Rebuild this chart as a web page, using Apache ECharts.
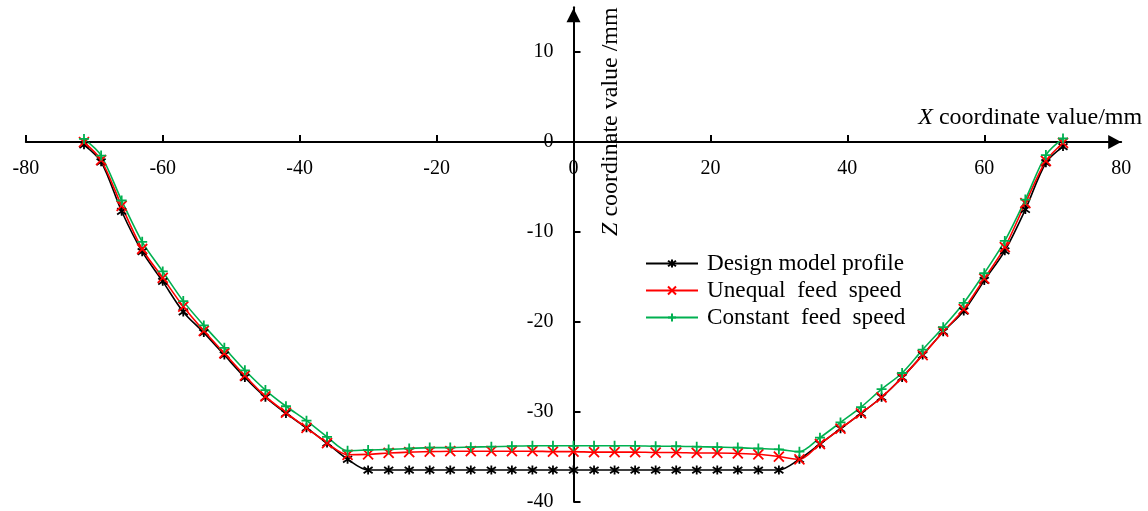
<!DOCTYPE html>
<html>
<head>
<meta charset="utf-8">
<title>Profile comparison</title>
<script src="https://cdn.jsdelivr.net/npm/echarts@6/dist/echarts.min.js"></script>
<style>
    html, body { margin: 0; padding: 0; background: #fff; }
    #main { width: 1148px; height: 511px; }
</style>
</head>
<body>
<div id="main"></div>
<script>
// x positions of the sampled profile points (mm)
var xValues = [-71.5, -69, -66, -63, -60, -57, -54, -51, -48, -45, -42, -39, -36, -33,
    -30, -27, -24, -21, -18, -15, -12, -9, -6, -3, 0, 3, 6, 9, 12, 15, 18, 21, 24, 27, 30,
    33, 36, 39, 42, 45, 48, 51, 54, 57, 60, 63, 66, 69, 71.5];

// z values (mm)
var designZ = [-0.3, -2.2, -7.7, -12.2, -15.5, -18.9, -21.2, -23.7, -26.2, -28.4, -30.2, -31.8, -33.5, -35.3,
    -36.5, -36.5, -36.5, -36.5, -36.5, -36.5, -36.5, -36.5, -36.5, -36.5, -36.5, -36.5, -36.5, -36.5, -36.5, -36.5, -36.5, -36.5, -36.5, -36.5, -36.5,
    -35.3, -33.6, -31.9, -30.2, -28.4, -26.2, -23.7, -21.1, -18.8, -15.4, -12.1, -7.5, -2.3, -0.5];
var unequalZ = [0.0, -2.0, -7.1, -11.9, -15.1, -18.3, -21.0, -23.5, -26.0, -28.3, -30.1, -31.8, -33.5, -34.8,
    -34.75, -34.6, -34.5, -34.45, -34.4, -34.4, -34.4, -34.4, -34.4, -34.45, -34.45, -34.5, -34.5, -34.5, -34.55, -34.55, -34.6, -34.6, -34.65, -34.75, -35.0,
    -35.3, -33.6, -31.9, -30.2, -28.4, -26.2, -23.7, -21.1, -18.6, -15.2, -11.7, -6.8, -2.1, -0.1];
var constantZ = [0.35, -1.5, -6.5, -11.1, -14.4, -17.7, -20.4, -22.9, -25.4, -27.6, -29.4, -31.0, -32.8, -34.35,
    -34.27, -34.2, -34.1, -34.0, -34.0, -33.95, -33.9, -33.85, -33.8, -33.8, -33.8, -33.8, -33.8, -33.8, -33.85, -33.85, -33.9, -33.95, -34.0, -34.1, -34.2,
    -34.45, -32.9, -31.2, -29.5, -27.5, -25.7, -23.1, -20.6, -17.9, -14.6, -11.0, -6.4, -1.45, 0.4];

var seriesNames = ['Design model profile', 'Unequal  feed  speed', 'Constant  feed  speed'];

// ticks / labels
var xTicks = [-80, -60, -40, -20, 0, 20, 40, 60];
var xLabels = [-80, -60, -40, -20, 0, 20, 40, 60, 80];
var yTicks = [-40, -30, -20, -10, 0, 10];

var FONT = '"Liberation Serif", "Times New Roman", serif';

// grid box (px) - axes are shifted into the middle so they cross at (0,0)
var GRID = { left: 25.8, right: 26.8, top: 7.3, bottom: 9.5 };
var X_MIN = -80, X_MAX = 80, Y_MIN = -40, Y_MAX = 15;
var plotW = 1148 - GRID.left - GRID.right;
var plotH = 511 - GRID.top - GRID.bottom;
var yAxisShift = -plotW * (0 - X_MIN) / (X_MAX - X_MIN);   // move y axis right to x = 0
var xAxisShift = -plotH * (0 - Y_MIN) / (Y_MAX - Y_MIN);   // move x axis up to z = 0

function pairs(zs) {
    return xValues.map(function (x, i) { return [x, zs[i]]; });
}

// marker shapes: star (*), cross (x), plus (+)
var starSymbol = 'path://M5,0L5,10M0.7,1.5L9.3,8.5M0.7,8.5L9.3,1.5';
var crossSymbol = 'path://M0,0L10,10M0,10L10,0';
var plusSymbol = 'path://M5,0L5,10M0,5L10,5';

function lineSeries(name, zs, color, symbol, size) {
    return {
        name: name,
        type: 'line',
        data: pairs(zs),
        smooth: 0.3,
        symbol: symbol,
        symbolSize: size,
        showAllSymbol: true,
        lineStyle: { color: color, width: 1.6 },
        itemStyle: { color: 'rgba(0,0,0,0)', borderColor: color, borderWidth: 1.8 },
        emphasis: { disabled: true }
    };
}

var myChart = echarts.init(document.getElementById('main'));

var option = {
    animation: false,
    backgroundColor: '#fff',
    grid: {
        left: GRID.left,
        right: GRID.right,
        top: GRID.top,
        bottom: GRID.bottom,
        outerBoundsMode: 'none'
    },
    legend: {
        orient: 'vertical',
        left: 645,
        top: 250,
        padding: 0,
        itemGap: 0,
        itemWidth: 52,
        itemHeight: 10,
        data: seriesNames,
        textStyle: {
            fontFamily: FONT,
            fontSize: 23.2,
            color: '#000',
            lineHeight: 27,
            padding: [0, 0, 0, 4]
        }
    },
    xAxis: {
        type: 'value',
        min: X_MIN,
        max: X_MAX,
        position: 'bottom',
        offset: xAxisShift,
        name: '{i|X} coordinate value/mm',
        nameLocation: 'end',
        nameGap: 21,
        nameMoveOverlap: false,
        nameTextStyle: {
            fontFamily: FONT,
            fontSize: 24,
            color: '#000',
            align: 'right',
            verticalAlign: 'bottom',
            padding: [0, 0, 12, 0],
            rich: {
                i: { fontFamily: FONT, fontSize: 24, fontStyle: 'italic', color: '#000' }
            }
        },
        splitLine: { show: false },
        axisLine: {
            onZero: false,
            symbol: ['none', 'triangle'],
            symbolSize: [14, 13],
            symbolOffset: [0, -6.5],
            lineStyle: { color: '#000', width: 2 }
        },
        axisTick: {
            inside: true,
            length: 7,
            customValues: xTicks,
            lineStyle: { color: '#000', width: 2 }
        },
        axisLabel: {
            customValues: xLabels,
            margin: 17,
            fontFamily: FONT,
            fontSize: 20,
            color: '#000'
        }
    },
    yAxis: {
        type: 'value',
        min: Y_MIN,
        max: Y_MAX,
        position: 'left',
        offset: yAxisShift,
        name: '{i|Z} coordinate value /mm',
        nameLocation: 'end',
        nameGap: 0,
        nameRotate: 90,
        nameMoveOverlap: false,
        nameTextStyle: {
            fontFamily: FONT,
            fontSize: 24,
            color: '#000',
            align: 'right',
            verticalAlign: 'top',
            padding: [25, 0, 0, 0],
            rich: {
                i: { fontFamily: FONT, fontSize: 24, fontStyle: 'italic', color: '#000' }
            }
        },
        splitLine: { show: false },
        axisLine: {
            onZero: false,
            symbol: ['none', 'triangle'],
            symbolSize: [14, 14],
            symbolOffset: [0, -8],
            lineStyle: { color: '#000', width: 2 }
        },
        axisTick: {
            inside: true,
            length: 7,
            customValues: yTicks,
            lineStyle: { color: '#000', width: 2 }
        },
        axisLabel: {
            customValues: yTicks,
            margin: 20,
            fontFamily: FONT,
            fontSize: 20,
            color: '#000'
        }
    },
    series: [
        lineSeries(seriesNames[0], designZ, '#000000', starSymbol, 9),
        lineSeries(seriesNames[1], unequalZ, '#ff0000', crossSymbol, 10),
        lineSeries(seriesNames[2], constantZ, '#00b050', plusSymbol, 10)
    ]
};

myChart.setOption(option, true);
</script>
</body>
</html>
